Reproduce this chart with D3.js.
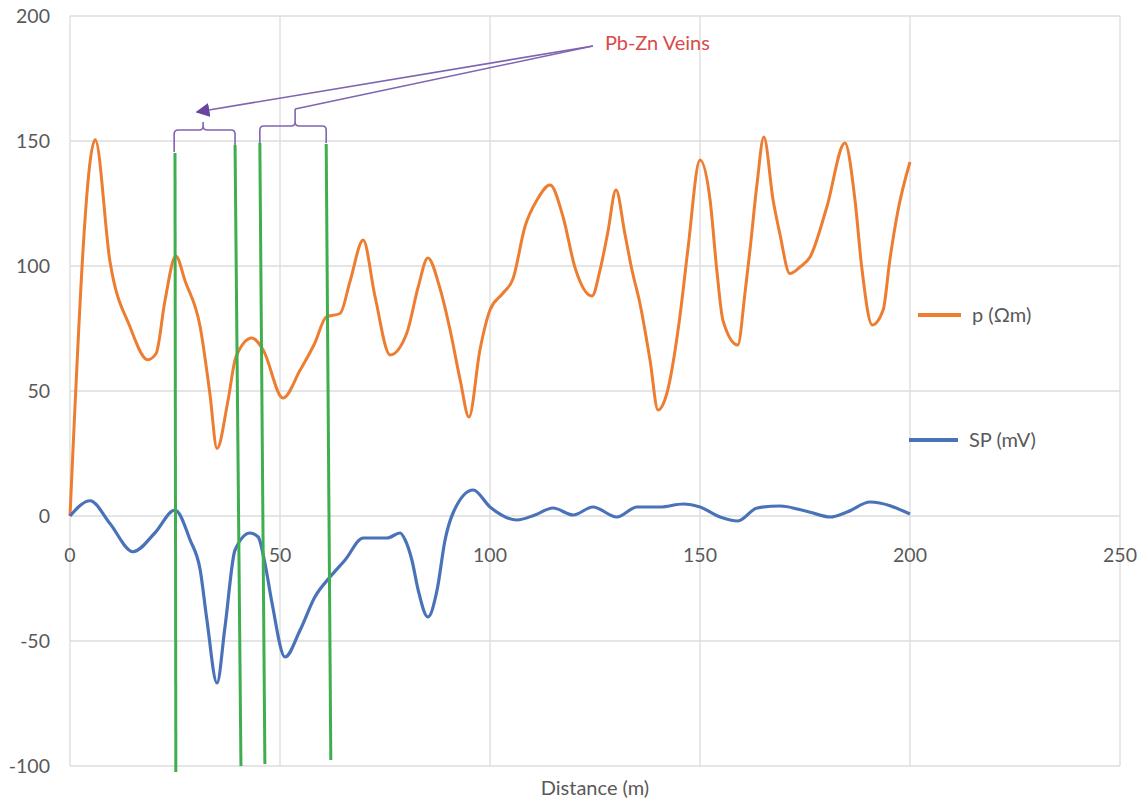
<!DOCTYPE html>
<html><head><meta charset="utf-8">
<script src="https://cdn.jsdelivr.net/npm/d3@7"></script>
<style>body{margin:0;background:#fff;}svg{display:block;}</style>
</head><body>
<svg id="chart" width="1146" height="804"></svg>
<script>
// ---- data ----
const xTicks = [0, 50, 100, 150, 200, 250];
const yTicks = [-100, -50, 0, 50, 100, 150, 200];
const seriesNames = ["p (Ωm)", "SP (mV)"];
const distRho = [0,6,9.5,14.3,18.5,20.5,22.6,25.2,27.4,31,33.3,35,37.6,39.5,43.3,46,50.7,54.8,58.3,61,64.3,66.7,69.8,72.6,76.2,80.2,82.9,85.2,88,90.5,92.9,95,97.6,100,103,105.5,108.3,111.2,114.3,117.4,120.2,124.3,126.2,128,130,132.1,133.8,135.7,138.1,140,142.1,145.2,147.1,150,152.4,154,155.5,159,160.7,161.9,163.6,165.2,167.4,169,171.4,173.8,176.2,180.2,184.5,186.9,188.5,191,193.6,195.2,197,200];
const rho = [0,150.5,102,75.6,62.5,65,86,104,94,75.6,49,27,46,63.6,71.2,66.4,47.2,58.4,69.2,79.6,81,94,110.4,88,64.4,73.2,91.6,103.2,91.6,74.4,54.4,39.6,66.4,82.4,89,95,115.6,126.4,132.4,119.6,99.6,88,98.4,113,130.4,113,98.4,85,62.4,42.4,49,79.6,106.4,142.4,126.4,98.4,78,68.4,89,106.4,133.2,151.6,126.4,113,97,99.6,103.6,123.6,149.2,126.4,99.6,76.4,82.4,102.4,121,141.6];
const distSP = [0,4.8,9.5,15,20.2,25,28.6,31,32.6,35,36.9,39.3,42.9,44.8,46.4,48.1,51.2,54.8,58.3,61.9,65.5,69.8,75.5,78.6,79.8,81.4,82.9,85.2,87.4,89.3,91.2,96,100,106.4,110.7,115,119.8,124.5,130.2,135,140.5,146,150,154.8,159,163.6,169,176,181,185,190.5,200];
const sp = [0,6.1,-3,-14.3,-6.8,2.4,-9.6,-21.6,-41.6,-66.8,-44.4,-13.6,-6.8,-8.4,-18.8,-34.8,-56.4,-45.6,-32.4,-24.4,-17.6,-8.8,-8.8,-6.8,-9.6,-17.6,-29.6,-40.4,-29.6,-9.6,1.2,10.4,3.6,-1.6,0.4,3.2,0.4,3.6,-0.4,3.6,3.6,4.8,3.6,-0.4,-2,3.2,4,1.6,-0.4,1.6,5.6,0.8];
// vein marker lines (data units: top x/y, bottom x/y)
const veinTopX = [25.0, 39.3, 45.2, 61.0];
const veinTopY = [145.2, 148.4, 149.2, 148.8];
const veinBotX = [25.2, 40.7, 46.4, 62.1];
const veinBotY = [-102.4, -100, -99.2, -97.6];
// brackets (data units)
const bracketLeft = [24.8, 45.2];
const bracketRight = [39.3, 61.0];
const bracketMid = [31.7, 53.6];
const bracketY = [154.4, 156];
const bracketLegY = [[145.6, 148.4], [149.2, 149.2]];
const bracketTipY = [157.6, 162.8];
const annotationText = "Pb-Zn Veins";
const annotationAnchor = [124.5, 188];
const annotationArrowTip = [30.2, 161.6];
const xTitle = "Distance (m)";

// ---- chart ----
const svg = d3.select("#chart");
const x = d3.scaleLinear().domain([0, 250]).range([70, 1120]);
const y = d3.scaleLinear().domain([-100, 200]).range([766, 16]);
const gridColor = "#dcdcdc";
const textColor = "#595959";
const font = "Lato, 'Open Sans', sans-serif";

// gridlines
svg.append("g").selectAll("line").data(yTicks).join("line")
  .attr("x1", x(0)).attr("x2", x(250)).attr("y1", d => y(d)).attr("y2", d => y(d))
  .attr("stroke", gridColor).attr("stroke-width", 1.3);
svg.append("g").selectAll("line").data(xTicks).join("line")
  .attr("y1", y(-100)).attr("y2", y(200)).attr("x1", d => x(d)).attr("x2", d => x(d))
  .attr("stroke", gridColor).attr("stroke-width", 1.3);

// y tick labels
svg.append("g").selectAll("text").data(yTicks).join("text")
  .attr("x", 50).attr("y", d => y(d)).attr("dy", "0.35em")
  .attr("text-anchor", "end").attr("fill", textColor)
  .style("font-family", font).style("font-size", "19.5px").text(d => d);
// x tick labels (beneath the zero line)
svg.append("g").selectAll("text").data(xTicks).join("text")
  .attr("x", d => x(d)).attr("y", y(0) + 39).attr("dy", "0.35em")
  .attr("text-anchor", "middle").attr("fill", textColor)
  .style("font-family", font).style("font-size", "19.5px").text(d => d);
// x title
svg.append("text").attr("x", (x(0) + x(250)) / 2).attr("y", 795)
  .attr("text-anchor", "middle").attr("fill", textColor)
  .style("font-family", font).style("font-size", "20px").text(xTitle);

// series
const line = d3.line().curve(d3.curveMonotoneX).x(d => x(d[0])).y(d => y(d[1]));
svg.append("path").datum(distRho.map((d, i) => [d, rho[i]]))
  .attr("d", line).attr("fill", "none").attr("stroke", "#ED7D31").attr("stroke-width", 3)
  .attr("stroke-linejoin", "round");
svg.append("path").datum(distSP.map((d, i) => [d, sp[i]]))
  .attr("d", line).attr("fill", "none").attr("stroke", "#4A72B8").attr("stroke-width", 3.2)
  .attr("stroke-linejoin", "round");

// vein lines
svg.append("g").selectAll("line").data(veinTopX).join("line")
  .attr("x1", (d, i) => x(d)).attr("y1", (d, i) => y(veinTopY[i]))
  .attr("x2", (d, i) => x(veinBotX[i])).attr("y2", (d, i) => y(veinBotY[i]))
  .attr("stroke", "#3FAE4F").attr("stroke-width", 3);

// brackets
const purple = "#8064B2";
bracketLeft.forEach((l, i) => {
  const xl = x(l), xr = x(bracketRight[i]), xm = x(bracketMid[i]);
  const yh = y(bracketY[i]), yt = y(bracketTipY[i]);
  const yl = y(bracketLegY[i][0]), yr = y(bracketLegY[i][1]);
  const r = 4;
  const p = d3.path();
  p.moveTo(xl, yl); p.lineTo(xl, yh + r); p.quadraticCurveTo(xl, yh, xl + r, yh);
  p.lineTo(xm - r, yh); p.quadraticCurveTo(xm, yh, xm, yh - r); p.lineTo(xm, yt);
  p.moveTo(xm, yh - r); p.quadraticCurveTo(xm, yh, xm + r, yh);
  p.lineTo(xr - r, yh); p.quadraticCurveTo(xr, yh, xr, yh + r); p.lineTo(xr, yr);
  svg.append("path").attr("d", p.toString()).attr("fill", "none")
    .attr("stroke", purple).attr("stroke-width", 1.6);
});

// arrows to annotation
svg.append("defs").append("marker").attr("id", "ah")
  .attr("viewBox", "0 0 10 10").attr("refX", 9).attr("refY", 5)
  .attr("markerWidth", 14).attr("markerHeight", 14).attr("markerUnits", "userSpaceOnUse")
  .attr("orient", "auto")
  .append("path").attr("d", "M0,0L10,5L0,10Z").attr("fill", "#6A44A0");
svg.append("line")
  .attr("x1", x(annotationAnchor[0])).attr("y1", y(annotationAnchor[1]))
  .attr("x2", x(annotationArrowTip[0])).attr("y2", y(annotationArrowTip[1]))
  .attr("stroke", purple).attr("stroke-width", 1.6).attr("marker-end", "url(#ah)");
svg.append("line")
  .attr("x1", x(annotationAnchor[0])).attr("y1", y(annotationAnchor[1]))
  .attr("x2", x(bracketMid[1])).attr("y2", y(bracketTipY[1]))
  .attr("stroke", purple).attr("stroke-width", 1.6);
svg.append("text").attr("x", x(annotationAnchor[0]) + 12).attr("y", y(annotationAnchor[1]) - 3)
  .attr("dy", "0.35em").attr("fill", "#D94A4A")
  .style("font-family", font).style("font-size", "20px").text(annotationText);

// legend
const legColors = ["#ED7D31", "#4A72B8"];
const legLineX = [[918, 961], [909, 958]];
const legY = [315, 440];
seriesNames.forEach((n, i) => {
  svg.append("line").attr("x1", legLineX[i][0]).attr("x2", legLineX[i][1])
    .attr("y1", legY[i]).attr("y2", legY[i]).attr("stroke", legColors[i]).attr("stroke-width", 4);
  svg.append("text").attr("x", legLineX[i][1] + 11).attr("y", legY[i]).attr("dy", "0.35em")
    .attr("fill", textColor).style("font-family", font).style("font-size", "20px").text(n);
});
</script>
</body></html>
